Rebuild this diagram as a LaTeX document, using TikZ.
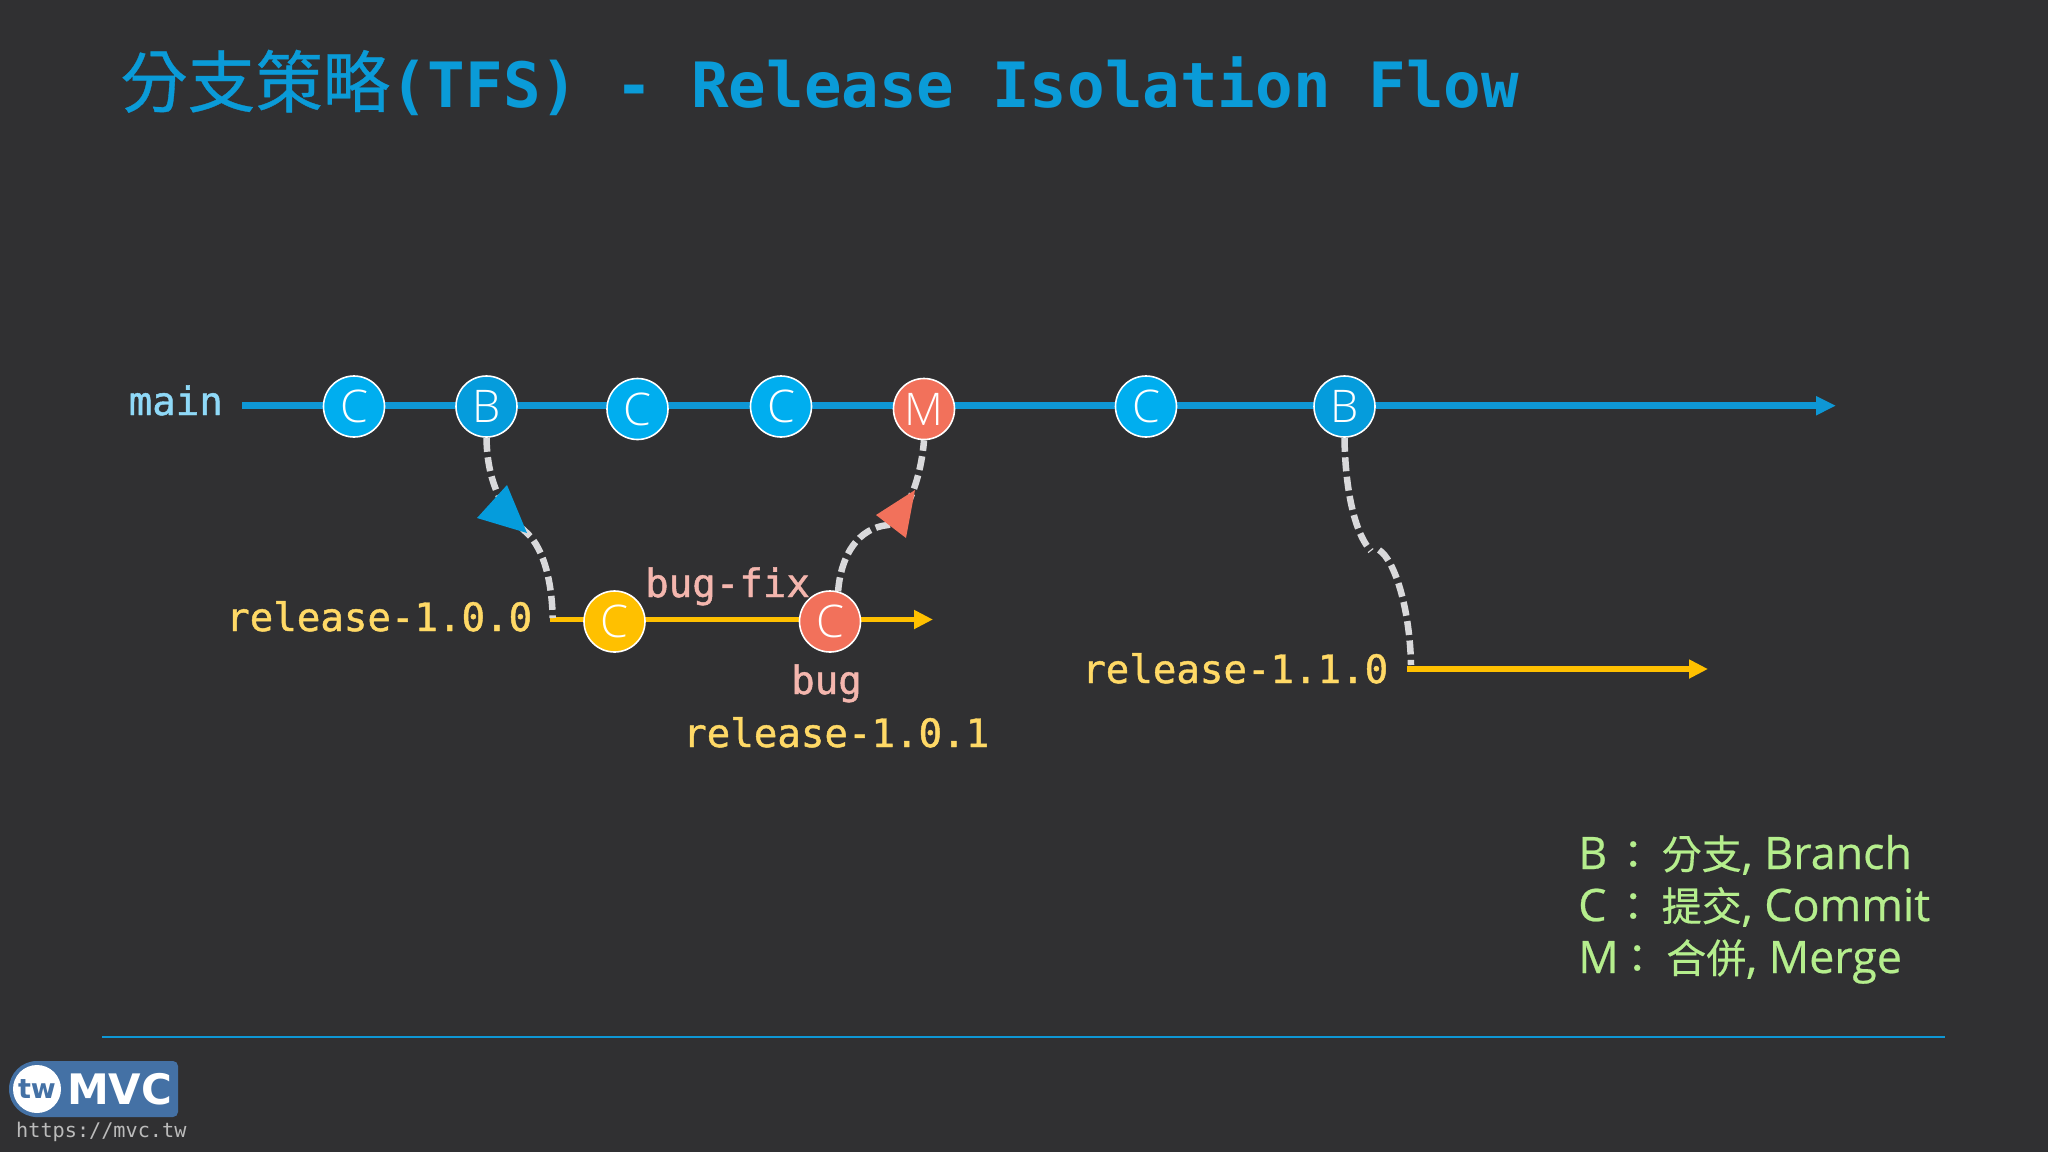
\documentclass[tikz,border=0pt]{standalone}
\usepackage{fontspec}
\usetikzlibrary{arrows.meta}
\newfontfamily\cjkf[FakeBold=0.5]{Noto Sans CJK TC}
\newfontfamily\cjklf[FakeBold=0.4]{Noto Sans CJK TC}
\newfontfamily\monof[FakeBold=1.2]{DejaVu Sans Mono}
\newfontfamily\urlf{DejaVu Sans Mono}
\newfontfamily\titlef{DejaVu Sans Mono Bold}
\newfontfamily\uif[FakeBold=0.5]{Open Sans}
\newfontfamily\lightf{Open Sans Light}
\newfontfamily\logof{DejaVu Sans}
\definecolor{bgc}{HTML}{303032}
\definecolor{blueline}{HTML}{0E97D5}
\definecolor{titlec}{HTML}{0A9BD8}
\definecolor{cblue}{HTML}{00AEEF}
\definecolor{bblue}{HTML}{059CDC}
\definecolor{redc}{HTML}{F2715B}
\definecolor{yellowc}{HTML}{FFC000}
\definecolor{mainlab}{HTML}{8FD9F8}
\definecolor{rellab}{HTML}{FFD966}
\definecolor{buglab}{HTML}{F4B6AE}
\definecolor{legendc}{HTML}{B5EE8D}
\definecolor{dashc}{HTML}{D9D9DB}
\definecolor{logoc}{HTML}{4471A5}
\definecolor{urlc}{HTML}{BBBBBB}
\pgfdeclarelayer{bg}
\pgfsetlayers{bg,main}
\tikzset{
  x=1pt,y=-1pt,
  commit/.style={circle,draw=white,line width=1.6pt,minimum size=61pt,inner sep=0pt,text=white,font=\lightf\fontsize{45}{45}\selectfont},
  cnode/.style={commit,fill=cblue},
  bnode/.style={commit,fill=bblue},
  rnode/.style={commit,fill=redc},
  ynode/.style={commit,fill=yellowc},
  branchlab/.style={anchor=base west,inner sep=0pt,font=\monof\fontsize{39.1}{39.1}\selectfont},
  legendline/.style={anchor=base west,inner sep=0pt,text=legendc,font=\uif\fontsize{44.8}{44.8}\selectfont},
  mainflow/.style={draw=blueline,line width=6.5pt,-{Triangle[length=20pt,width=18pt]}},
  relflow/.style={draw=yellowc,line width=5.5pt,-{Triangle[length=19pt,width=18pt]}},
  dashflow/.style={draw=dashc,line width=6.5pt,dash pattern=on 14pt off 5.5pt},
}
\newcommand{\lcjk}[1]{{\cjklf\fontsize{40}{40}\selectfont #1}}
\begin{document}
\begin{tikzpicture}
\useasboundingbox (0,0) rectangle (2048,1152);
\begin{pgfonlayer}{bg}
\fill[bgc] (0,0) rectangle (2048,1152);
\end{pgfonlayer}
% commits
\node[cnode] (c1) at (354,406.5) {C};
\node[bnode] (b1) at (486.5,406.5) {B};
\node[cnode] (c2) at (637.5,409) {C};
\node[cnode] (c3) at (781,406.5) {C};
\node[rnode] (m1) at (924,409) {M};
\node[cnode] (c4) at (1146,406.5) {C};
\node[bnode] (b2) at (1344.5,406.5) {B};
\node[ynode] (y1) at (614.5,621.5) {C};
\node[rnode] (r1) at (830,621.5) {C};
% ends of the lines
\coordinate (mainstart) at (242,405.7);
\coordinate (mainend) at (1836,405.7);
\coordinate (relAstart) at (550,619.5);
\coordinate (relAend) at (933,619.5);
\coordinate (relBstart) at (1407,669);
\coordinate (relBend) at (1708,669);
\coordinate (relAjoin) at (552.7,618);
\coordinate (relBjoin) at (1411,665);
\begin{pgfonlayer}{bg}
\draw[mainflow] (mainstart) -- (mainend);
\draw[relflow] (relAstart) -- (relAend);
\draw[relflow] (relBstart) -- (relBend);
\draw[dashflow] (b1.south) .. controls (487,470) and (495,505) .. (527,533) .. controls (545,550) and (552,585) .. (relAjoin);
\draw[dashflow] (r1.75) .. controls (841,555) and (858,528) .. (888,525) .. controls (905,520) and (921,480) .. (m1.south);
\draw[dashflow] (b2.south) .. controls (1345,480) and (1352,530) .. (1371,551) (1379,550) .. controls (1395,560) and (1410,610) .. (relBjoin);
\end{pgfonlayer}
% arrowheads on the dashed connectors
\fill[bblue] (507,485) -- (477,518) -- (527,533) -- cycle;
\fill[redc] (915,490) -- (876,515) -- (906,538) -- cycle;
% title
\node[anchor=base west,inner sep=0pt,text=titlec] (title) at (120,107) {{\cjkf\fontsize{67.5}{67.5}\selectfont 分支策略}\hspace{0pt}{\titlef\fontsize{62.5}{62.5}\selectfont (TFS) - Release Isolation Flow}};
% labels
\node[branchlab,text=mainlab] (lmain) at (128.5,415) {main};
\node[branchlab,text=rellab] (lra) at (226,631) {release-1.0.0};
\node[branchlab,text=buglab] (lfix) at (645,597) {bug-fix};
\node[branchlab,text=buglab] (lbug) at (791,694) {bug};
\node[branchlab,text=rellab] (lrb) at (683,747) {release-1.0.1};
\node[branchlab,text=rellab] (lrc) at (1082,683) {release-1.1.0};
% legend
\node[legendline] (lg1) at (1578,869) {\rlap{B}\hspace{35pt}\rlap{\lcjk{：}}\hspace{48.5pt}\lcjk{分支}, Branch};
\node[legendline] (lg2) at (1578,921) {\rlap{C}\hspace{35pt}\rlap{\lcjk{：}}\hspace{48.5pt}\lcjk{提交}, Commit};
\node[legendline] (lg3) at (1578,973) {\rlap{M}\hspace{39pt}\rlap{\lcjk{：}}\hspace{49pt}\lcjk{合併}, Merge};
% rule
\coordinate (rulel) at (102,1036.7);
\coordinate (ruler) at (1945,1036.7);
\draw[blueline,line width=2pt] (rulel) -- (ruler);
% logo
\fill[logoc,rounded corners=5pt] (30,1061) -- (178,1061) -- (178,1117) -- (30,1117) -- cycle;
\fill[logoc] (37,1089) circle[radius=28];
\node[circle,fill=white,minimum size=48pt,inner sep=0pt,text=logoc,font=\logof\bfseries\fontsize{27}{27}\selectfont] (twlogo) at (37,1089) {tw};
\node[anchor=base west,inner sep=0pt,text=white,font=\logof\bfseries\fontsize{42}{42}\selectfont] (mvclogo) at (67,1104) {MVC};
\node[anchor=base west,inner sep=0pt,text=urlc,font=\urlf\fontsize{20.2}{20.2}\selectfont] (url) at (16,1137) {https://mvc.tw};
\end{tikzpicture}
\end{document}
